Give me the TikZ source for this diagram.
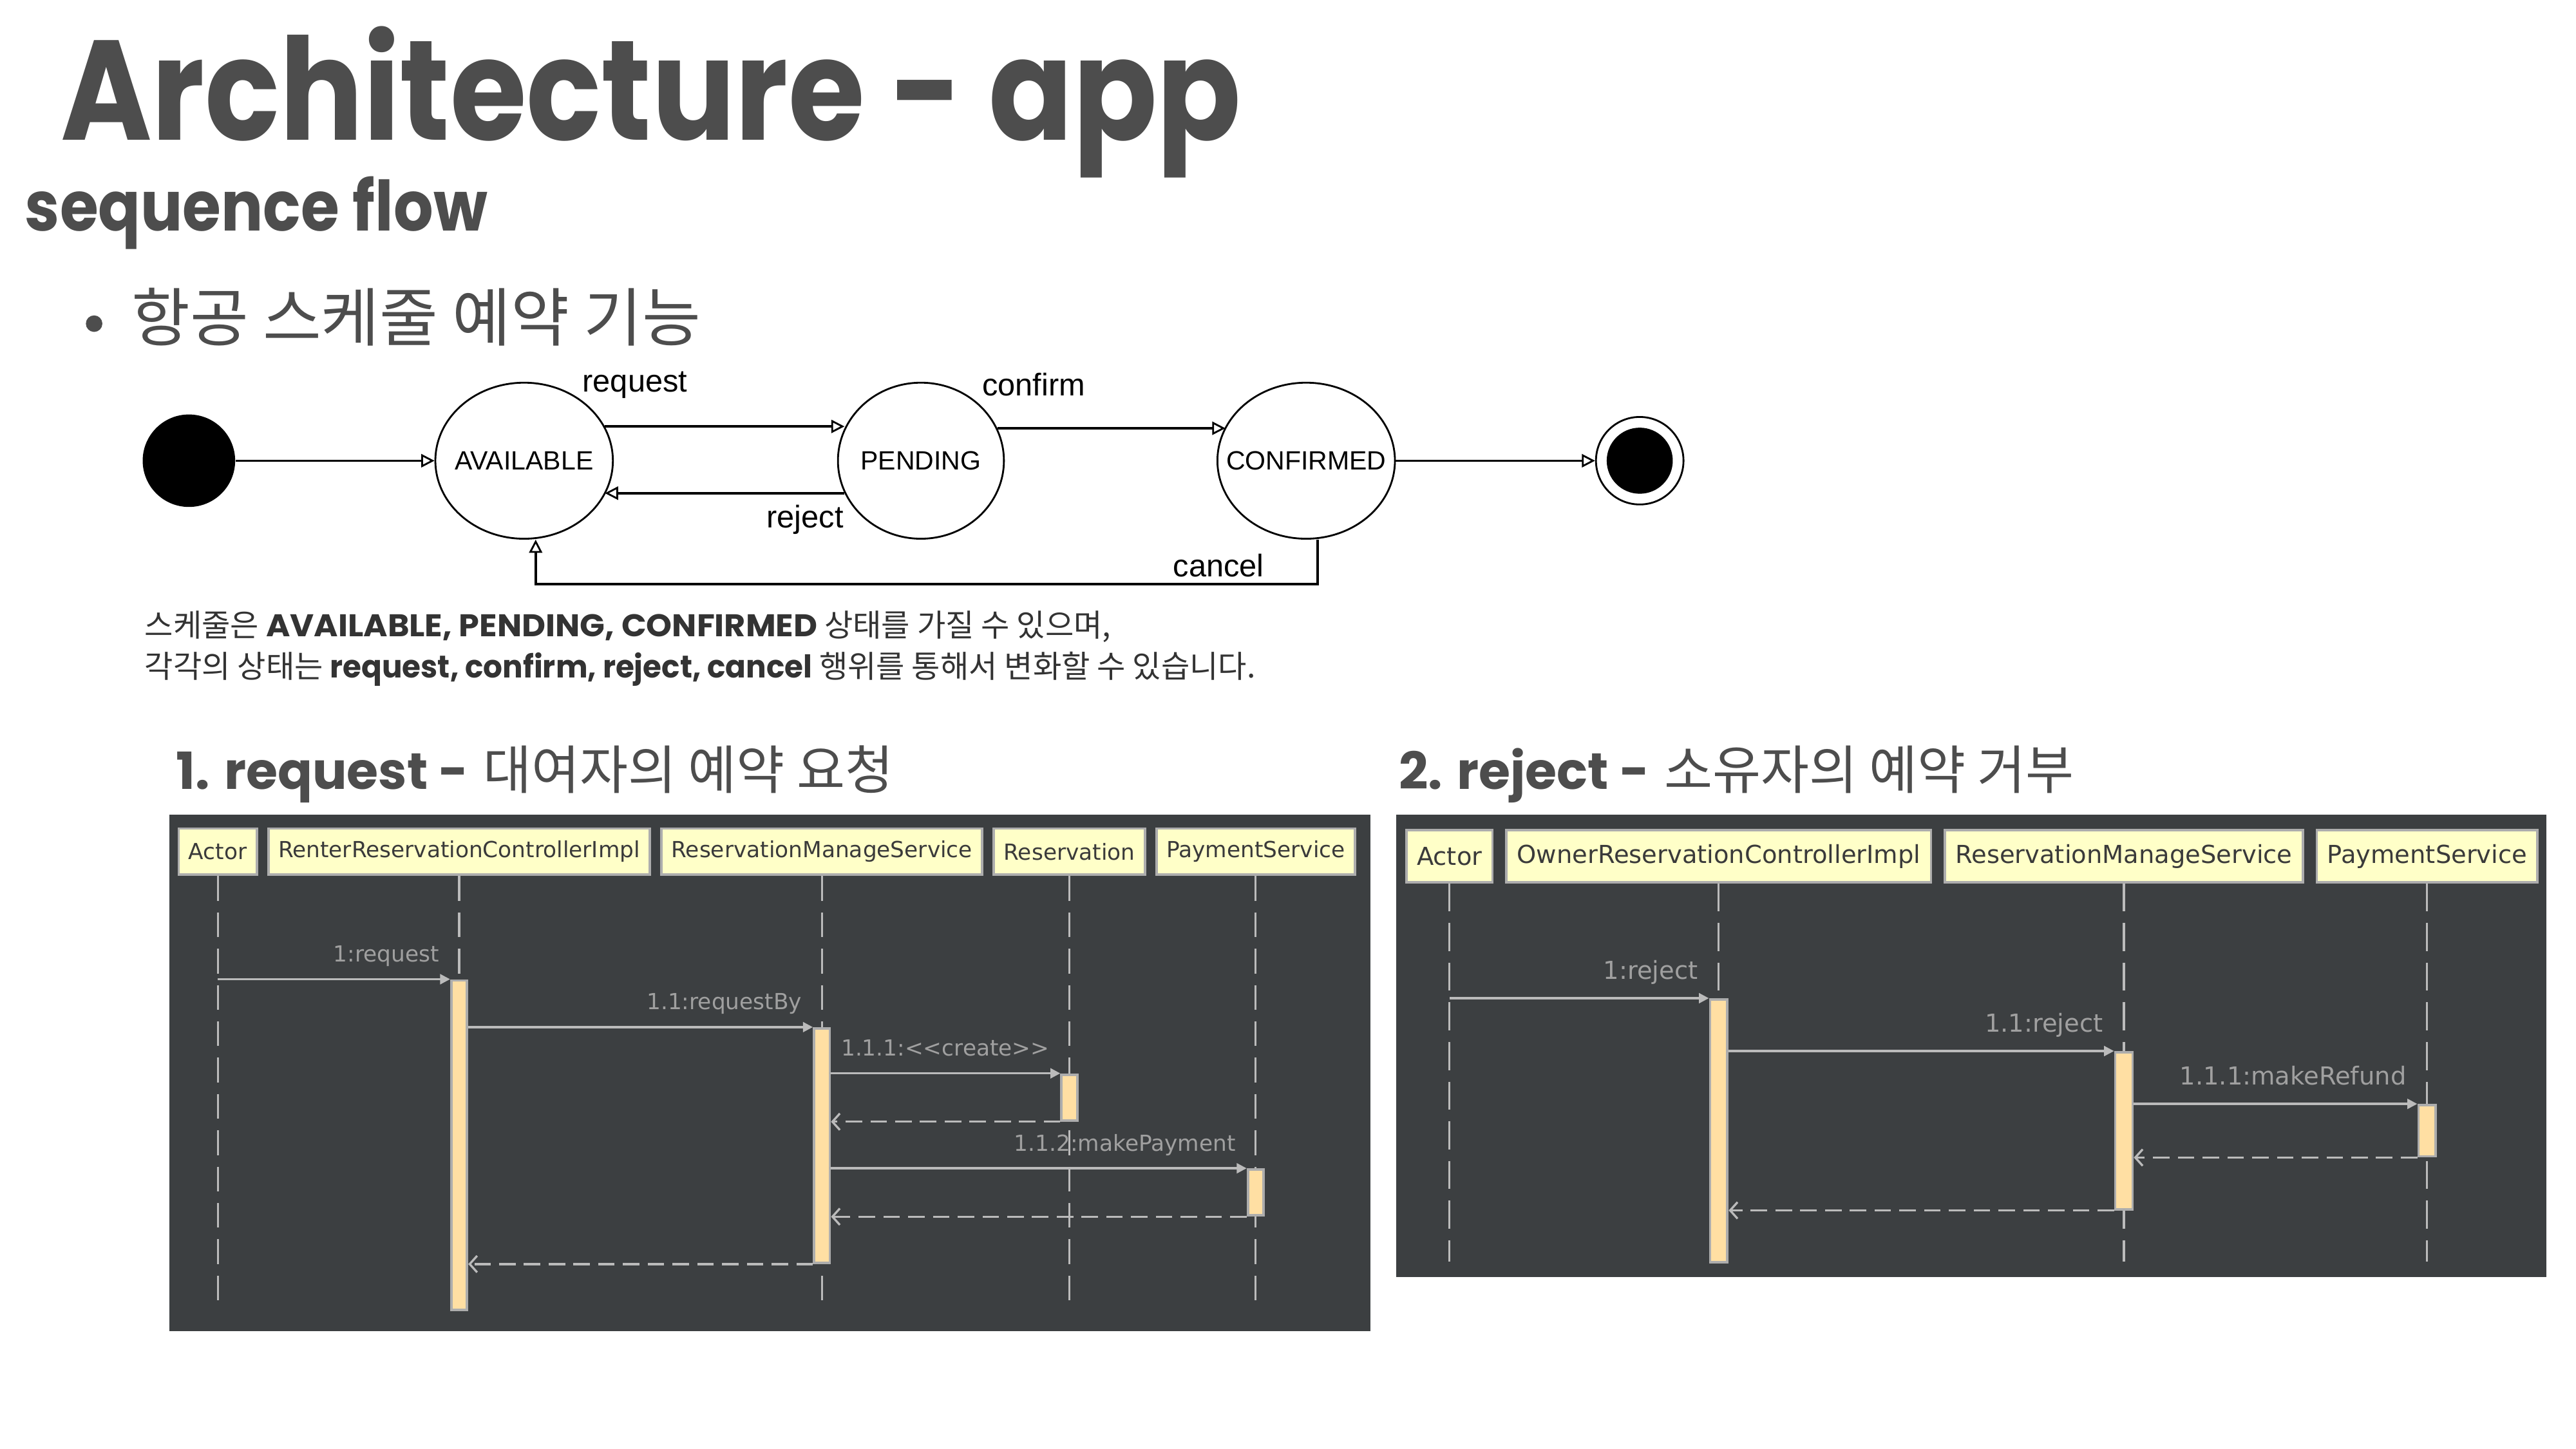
\documentclass[tikz,border=0pt]{standalone}
\usepackage{fontspec}
\usepackage{graphicx}
\setmainfont{Liberation Sans}
\newfontfamily\headfont{Poppins}
\newfontfamily\krfont{Noto Sans CJK KR}
\newfontfamily\seqfont{DejaVu Sans}
\usetikzlibrary{positioning,shapes,arrows.meta}

\definecolor{inkgray}{HTML}{4D4D4D}
\definecolor{textgray}{HTML}{333333}
\definecolor{panelbg}{HTML}{3C3F41}
\definecolor{headfill}{HTML}{FFFFC8}
\definecolor{headdraw}{HTML}{ADADAD}
\definecolor{headtext}{HTML}{3A3A3A}
\definecolor{barfill}{HTML}{FFDFA3}
\definecolor{seqline}{HTML}{BBBBBB}
\definecolor{seqlabel}{HTML}{A0A0A0}

\newcommand{\latinbold}[2]{\resizebox{#1}{\height}{\headfont\bfseries\fontsize{19}{19}\selectfont #2}}

\tikzset {
    state node/.style={
        ellipse, % Set the shape as an ellipse
        draw=black,
        line width=1.1pt,
        fill=white,
        minimum width=107.5pt,
        minimum height=94.5pt,
        inner sep=0pt,
        font=\fontsize{16}{16}\selectfont,
    },
    start dot/.style={
        circle,
        fill=black,
        minimum size=56pt,
        inner sep=0pt,
    },
    end dot/.style={
        circle,
        draw=black,
        line width=1.1pt,
        minimum size=53pt,
        inner sep=0pt,
    },
    state arrow/.style={
        draw=black,
        line width=1.4pt,
        -{Triangle[open,length=8pt,width=8pt,line width=1.1pt]},
    },
    edge label/.style={
        inner sep=0pt,
        font=\fontsize{19}{19}\selectfont,
    },
    head box A/.style={
        rectangle, % Set the shape as a rectangle
        fill=headfill,
        draw=headdraw,
        line width=1.5pt,
        text=headtext,
        font=\seqfont\fontsize{13.4}{13.4}\selectfont,
        minimum height=28pt,
        inner xsep=6pt,
        inner ysep=0pt,
    },
    head box B/.style={
        head box A,
        font=\seqfont\fontsize{15}{15}\selectfont,
        minimum height=31.5pt,
        inner xsep=6.3pt,
    },
    life line/.style={
        draw=seqline,
        line width=1.2pt,
        dash pattern=on 15pt off 7pt,
    },
    act bar/.style={
        rectangle,
        fill=barfill,
        draw=headdraw,
        line width=1.5pt,
        minimum width=9.5pt,
        inner sep=0pt,
        anchor=north,
    },
    msg line/.style={
        draw=seqline,
        line width=1.3pt,
        -{Triangle[length=6pt,width=6pt]},
    },
    ret line/.style={
        draw=seqline,
        line width=1.3pt,
        dash pattern=on 10pt off 5pt,
        -{Straight Barb[length=4.5pt,width=10pt]},
    },
    msg label/.style={
        anchor=base east,
        inner sep=0pt,
        text=seqlabel,
        xshift=-6pt,
        yshift=10.5pt,
    },
}

\begin{document}
\begin{tikzpicture}[x=1pt, y=-1pt]

    \useasboundingbox (0,0) rectangle (1560,877.5);
    \fill[white] (0,0) rectangle (1560,877.5);

    % titles
    \node[anchor=base west, inner sep=0pt, text=inkgray] (title) at (36.5,85)
        {\resizebox{715pt}{\height}{\headfont\bfseries\fontsize{86}{86}\selectfont Architecture - app}};
    \node[anchor=base west, inner sep=0pt, text=inkgray] (subtitle) at (15,140)
        {\resizebox{280pt}{\height}{\headfont\bfseries\fontsize{42}{42}\selectfont sequence flow}};
    \node[circle, fill=inkgray, inner sep=0pt, minimum size=10pt] (dot) at (57,196) {};
    \node[anchor=west, inner sep=0pt, text=inkgray] (topic) at (79.5,192)
        {\krfont\fontsize{38.5}{38.5}\selectfont 항공 스케줄 예약 기능};

    % state machine
    \node[start dot] (init) at (114.4,279) {};
    \node[state node] (avail) at (317.4,279) {\makebox[0pt]{AVAILABLE}};
    \node[state node, minimum width=100.5pt] (pend) at (557.7,279) {\makebox[0pt]{PENDING}};
    \node[state node] (conf) at (791,279) {\makebox[0pt]{CONFIRMED}};
    \node[end dot] (fin) at (993,279) {};
    \node[circle, fill=black, minimum size=40pt, inner sep=0pt] (fin core) at (fin) {};

    \draw[state arrow] (init) -- (avail);
    \draw[state arrow] (avail.23) -- (pend.157 |- avail.23);
    \draw[state arrow] (pend.203) -- (avail.337 |- pend.203);
    \draw[state arrow] (pend.23) -- (conf.157 |- pend.23);
    \draw[state arrow] (conf) -- (fin);
    \draw[state arrow] ([xshift=7pt]conf.south) -- ++(0,27) -| ([xshift=7pt]avail.south);

    \node[edge label] (l request) at (384.5,233) {request};
    \node[edge label] (l confirm) at (626,233) {confirm};
    \node[edge label] (l reject) at (487.5,314.5) {reject};
    \node[edge label] (l cancel) at (738,342.5) {cancel};

    \node[anchor=base west, inner sep=0pt, text=textgray, font=\fontsize{18.8}{18.8}\selectfont] (desc1) at (87.5,385.5)
        {\krfont 스케줄은 \latinbold{334pt}{AVAILABLE, PENDING, CONFIRMED} 상태를 가질 수 있으며,};
    \node[anchor=base west, inner sep=0pt, text=textgray, font=\fontsize{18.8}{18.8}\selectfont] (desc2) at (87.5,410.5)
        {\krfont 각각의 상태는 \latinbold{292pt}{request, confirm, reject, cancel} 행위를 통해서 변화할 수 있습니다.};

    % 1. request
    \node[anchor=base west, inner sep=0pt, text=inkgray] (head1) at (106.5,478)
        {{\headfont\bfseries\fontsize{31}{31}\selectfont 1. request -}\hspace{9pt}{\krfont\fontsize{31.8}{31.8}\selectfont 대여자의 예약 요청}};
    \fill[panelbg] (102.5,493.5) rectangle (830,806);

    \node[head box A, anchor=north west] (ractor) at (107.5,501) {Actor};
    \node[head box A, right=5.5pt of ractor] (rctrl) {RenterReservationControllerImpl};
    \node[head box A, right=5.5pt of rctrl] (rmanage) {ReservationManageService};
    \node[head box A, right=5.5pt of rmanage] (rres) {Reservation};
    \node[head box A, right=5.5pt of rres] (rpay) {PaymentService};

    \draw[life line] (ractor.south) -- ++(0,262);
    \draw[life line] (rctrl.south) -- ++(0,262);
    \draw[life line] (rmanage.south) -- ++(0,262);
    \draw[life line] (rres.south) -- ++(0,262);
    \draw[life line] (rpay.south) -- ++(0,262);

    \node[act bar, minimum height=199.5pt] (rbar1) at (rctrl.south |- 0,593) {};
    \node[act bar, minimum height=142pt] (rbar2) at (rmanage.south |- 0,622) {};
    \node[act bar, minimum height=27.8pt] (rbar3) at (rres.south |- 0,650) {};
    \node[act bar, minimum height=27.8pt] (rbar4) at (rpay.south |- 0,707.5) {};

    \begin{scope}[font=\seqfont\fontsize{13.4}{13.4}\selectfont]
        \draw[msg line] (ractor.south |- rbar1.north) -- (rbar1.north west) node[msg label] {1:request};
        \draw[msg line] (rbar1.east |- rbar2.north) -- (rbar2.north west) node[msg label] {1.1:requestBy};
        \draw[msg line] (rbar2.east |- rbar3.north) -- (rbar3.north west) node[msg label] {1.1.1:{<}{<}create{>}{>}};
        \draw[ret line] (rbar3.south west) -- (rbar2.east |- rbar3.south);
        \draw[msg line] (rbar2.east |- rbar4.north) -- (rbar4.north west) node[msg label] {1.1.2:makePayment};
        \draw[ret line] (rbar4.south west) -- (rbar2.east |- rbar4.south);
        \draw[ret line] (rbar2.south west) -- (rbar1.east |- rbar2.south);
    \end{scope}

    % 2. reject
    \node[anchor=base west, inner sep=0pt, text=inkgray] (head2) at (847,478)
        {{\headfont\bfseries\fontsize{31}{31}\selectfont 2. reject -}\hspace{9pt}{\krfont\fontsize{31.8}{31.8}\selectfont 소유자의 예약 거부}};
    \fill[panelbg] (845.5,493.5) rectangle (1542,773.5);

    \node[head box B, anchor=north west] (oactor) at (851,502) {Actor};
    \node[head box B, right=7pt of oactor] (octrl) {OwnerReservationControllerImpl};
    \node[head box B, right=7pt of octrl] (omanage) {ReservationManageService};
    \node[head box B, right=7pt of omanage] (opay) {PaymentService};

    \draw[life line, dash pattern=on 17pt off 7pt] (oactor.south) -- ++(0,229);
    \draw[life line, dash pattern=on 17pt off 7pt] (octrl.south) -- ++(0,229);
    \draw[life line, dash pattern=on 17pt off 7pt] (omanage.south) -- ++(0,229);
    \draw[life line, dash pattern=on 17pt off 7pt] (opay.south) -- ++(0,229);

    \node[act bar, minimum width=10.5pt, minimum height=159pt] (obar1) at (octrl.south |- 0,604.5) {};
    \node[act bar, minimum width=10.5pt, minimum height=95pt] (obar2) at (omanage.south |- 0,636.5) {};
    \node[act bar, minimum width=10.5pt, minimum height=31pt] (obar3) at (opay.south |- 0,668.5) {};

    \begin{scope}[font=\seqfont\fontsize{15}{15}\selectfont]
        \draw[msg line] (oactor.south |- obar1.north) -- (obar1.north west) node[msg label, yshift=1pt] {1:reject};
        \draw[msg line] (obar1.east |- obar2.north) -- (obar2.north west) node[msg label, yshift=1pt] {1.1:reject};
        \draw[msg line] (obar2.east |- obar3.north) -- (obar3.north west) node[msg label, yshift=1pt] {1.1.1:makeRefund};
        \draw[ret line] (obar3.south west) -- (obar2.east |- obar3.south);
        \draw[ret line] (obar2.south west) -- (obar1.east |- obar2.south);
    \end{scope}

\end{tikzpicture}
\end{document}
